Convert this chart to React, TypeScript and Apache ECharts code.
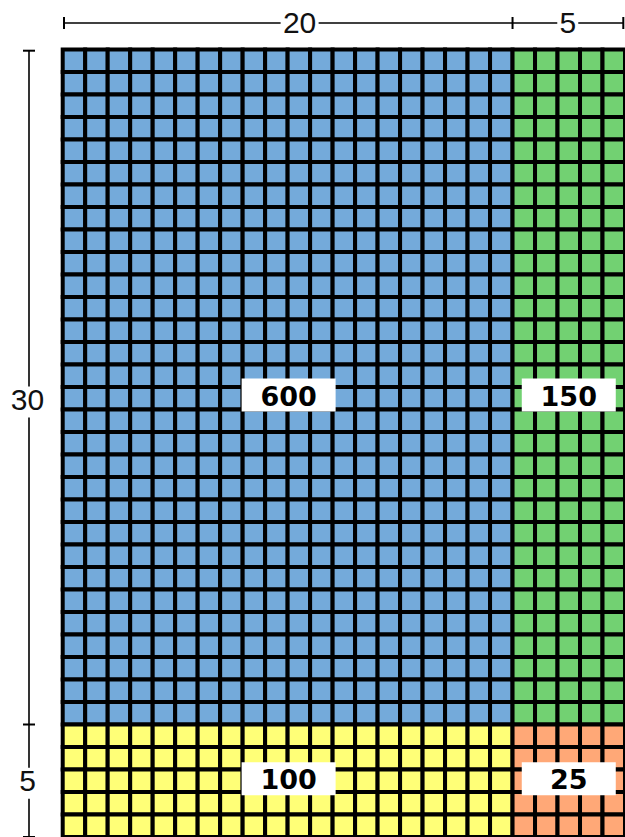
import React, { useEffect, useRef } from 'react';
import * as echarts from 'echarts';

// ---- data ----
const colWidths = [20, 5];
const rowHeights = [30, 5];
const blockValues = [
  [600, 150],
  [100, 25],
];
const topDimLabels = ['20', '5'];
const leftDimLabels = ['30', '5'];

// ---- style ----
const blockColors = [
  ['#74AADA', '#72D172'],
  ['#FFFF77', '#FFA877'],
];
const GRID_LEFT = 62.7;
const GRID_TOP = 49.5;
const CELL = 22.5;
const innerRowOffsets = [8, -2];
const innerColOffsets = [1, 0];
const topDimOffsets = [12, -1];
const leftDimOffsets = [11.5, -1];

const cum = (arr: number[]) => {
  const out = [0];
  arr.forEach((v) => out.push(out[out.length - 1] + v));
  return out;
};

export default function App() {
  const ref = useRef<HTMLDivElement>(null);

  useEffect(() => {
    document.body.style.margin = '0';
    const chart = echarts.init(ref.current!, undefined, { renderer: 'svg' });
    const xs = cum(colWidths);
    const ys = cum(rowHeights);
    const totalW = xs[xs.length - 1];
    const totalH = ys[ys.length - 1];

    const cellData: number[][] = [];
    const labelData: number[][] = [];
    rowHeights.forEach((_, r) => {
      colWidths.forEach((__, c) => {
        for (let y = ys[r]; y < ys[r + 1]; y++) {
          for (let x = xs[c]; x < xs[c + 1]; x++) {
            cellData.push([x, y, r, c]);
          }
        }
        labelData.push([(xs[c] + xs[c + 1]) / 2, (ys[r] + ys[r + 1]) / 2, blockValues[r][c], r, c]);
      });
    });

    const dimFont = '30px "Liberation Sans", Arial, sans-serif';

    chart.setOption({
      animation: false,
      grid: {
        left: GRID_LEFT,
        top: GRID_TOP,
        width: totalW * CELL,
        height: totalH * CELL,
      },
      xAxis: { type: 'value', min: 0, max: totalW, show: false },
      yAxis: { type: 'value', min: 0, max: totalH, inverse: true, show: false },
      series: [
        {
          type: 'custom',
          data: cellData,
          renderItem: (params: any, api: any) => {
            const x = api.value(0);
            const y = api.value(1);
            const r = api.value(2);
            const c = api.value(3);
            const p0 = api.coord([x, y]);
            const p1 = api.coord([x + 1, y + 1]);
            return {
              type: 'rect',
              shape: {
                x: p0[0],
                y: Math.min(p0[1], p1[1]),
                width: p1[0] - p0[0],
                height: Math.abs(p1[1] - p0[1]),
              },
              style: { fill: blockColors[r][c], stroke: '#000', lineWidth: 4 },
            };
          },
        },
        {
          type: 'custom',
          data: labelData,
          renderItem: (params: any, api: any) => {
            const r = api.value(3);
            const c = api.value(4);
            const p = api.coord([api.value(0), api.value(1)]);
            const cx = p[0] + innerColOffsets[c];
            const cy = p[1] + innerRowOffsets[r];
            return {
              type: 'group',
              children: [
                {
                  type: 'rect',
                  shape: { x: cx - 47, y: cy - 16.5, width: 94, height: 33 },
                  style: { fill: '#fff' },
                },
                {
                  type: 'text',
                  x: cx,
                  y: cy + 1,
                  style: {
                    text: String(api.value(2)),
                    fill: '#000',
                    font: 'bold 27px "DejaVu Sans", sans-serif',
                    align: 'center',
                    verticalAlign: 'middle',
                  },
                },
              ],
            };
          },
        },
        {
          type: 'custom',
          data: [[0, 0]],
          renderItem: (params: any, api: any) => {
            const children: any[] = [];
            const lineStyle = { stroke: '#000', lineWidth: 1.6 };
            // top dimension line
            const px = xs.map((v) => api.coord([v, 0])[0]);
            px[0] += 1.3;
            px[px.length - 1] -= 1.7;
            const yLine = GRID_TOP - 26.5;
            children.push({
              type: 'line',
              shape: { x1: px[0], y1: yLine, x2: px[px.length - 1], y2: yLine },
              style: lineStyle,
            });
            px.forEach((x) =>
              children.push({
                type: 'line',
                shape: { x1: x, y1: yLine - 6, x2: x, y2: yLine + 6 },
                style: { stroke: '#000', lineWidth: 2 },
              })
            );
            topDimLabels.forEach((t, i) => {
              const cx = api.coord([(xs[i] + xs[i + 1]) / 2, 0])[0] + topDimOffsets[i];
              const w = t.length * 17 + 4;
              children.push({
                type: 'rect',
                shape: { x: cx - w / 2, y: yLine - 14, width: w, height: 28 },
                style: { fill: '#fff' },
              });
              children.push({
                type: 'text',
                x: cx,
                y: yLine - 1,
                style: { text: t, fill: '#111', font: dimFont, align: 'center', verticalAlign: 'middle' },
              });
            });
            // left dimension line
            const py = ys.map((v) => api.coord([0, v])[1]);
            py[0] += 1.2;
            const xLine = GRID_LEFT - 33.7;
            children.push({
              type: 'line',
              shape: { x1: xLine, y1: py[0], x2: xLine, y2: py[py.length - 1] },
              style: lineStyle,
            });
            py.forEach((y) =>
              children.push({
                type: 'line',
                shape: { x1: xLine - 6, y1: y, x2: xLine + 6, y2: y },
                style: { stroke: '#000', lineWidth: 2 },
              })
            );
            leftDimLabels.forEach((t, i) => {
              const cy = api.coord([0, (ys[i] + ys[i + 1]) / 2])[1] + leftDimOffsets[i];
              const w = t.length * 17 + 4;
              children.push({
                type: 'rect',
                shape: { x: xLine - 1.5 - w / 2, y: cy - 12, width: w, height: 31 },
                style: { fill: '#fff' },
              });
              children.push({
                type: 'text',
                x: xLine - 1.5,
                y: cy + 1,
                style: { text: t, fill: '#111', font: dimFont, align: 'center', verticalAlign: 'middle' },
              });
            });
            return { type: 'group', children };
          },
        },
      ],
    });
    return () => chart.dispose();
  }, []);

  return <div ref={ref} style={{ width: 625, height: 837 }} />;
}
